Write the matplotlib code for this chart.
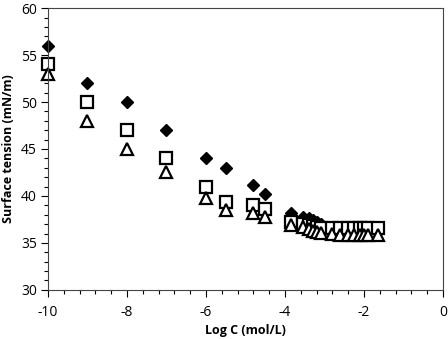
import matplotlib
matplotlib.use("Agg")
import matplotlib.pyplot as plt
import matplotlib.ticker as ticker

logc = [-10, -9, -8, -7, -6, -5.5, -4.8, -4.5, -3.85, -3.55, -3.4, -3.3, -3.2,
        -3.1, -2.8, -2.6, -2.4, -2.25, -2.1, -2.0, -1.9, -1.65]
st_diamond = [56, 52, 50, 47, 44, 43, 41.2, 40.2, 38.2, 37.8, 37.6, 37.4, 37.2,
              37.0, 36.4, 36.3, 36.5, 36.5, 36.4, 36.4, 36.5, 36.4]
st_square = [54, 50, 47, 44, 41, 39.4, 39.0, 38.6, 37.2, 37.0, 36.9, 36.8, 36.7,
             36.6, 36.6, 36.6, 36.6, 36.6, 36.6, 36.6, 36.6, 36.6]
st_triangle = [53, 48, 45, 42.5, 39.8, 38.5, 38.2, 37.8, 36.9, 36.7, 36.5, 36.3, 36.2,
               36.1, 36.0, 35.8, 35.8, 35.8, 35.8, 35.8, 35.8, 35.8]

plt.rcParams['font.family'] = ['Open Sans', 'DejaVu Sans']
plt.rcParams['axes.unicode_minus'] = False

fig = plt.figure(figsize=(4.48, 3.39), dpi=100)
ax = fig.add_axes([0.107, 0.145, 0.882, 0.831])

ax.plot(logc, st_diamond, 'D', color='black', markersize=6.5, linestyle='none', clip_on=False)
ax.plot(logc, st_square, 's', markerfacecolor='white', markeredgecolor='black',
        markeredgewidth=1.6, markersize=9, linestyle='none', clip_on=False)
ax.plot(logc, st_triangle, '^', markerfacecolor='white', markeredgecolor='black',
        markeredgewidth=1.6, markersize=8.5, linestyle='none', clip_on=False)

ax.set_xlim(-10, 0)
ax.set_ylim(30, 60)
ax.xaxis.set_major_locator(ticker.MultipleLocator(2))
ax.xaxis.set_minor_locator(ticker.MultipleLocator(0.4))
ax.yaxis.set_major_locator(ticker.MultipleLocator(5))
ax.yaxis.set_minor_locator(ticker.MultipleLocator(1))
ax.tick_params(which='major', direction='out', length=5, width=0.8, labelsize=10)
ax.tick_params(which='minor', direction='out', length=3, width=0.8)
ax.tick_params(axis='x', which='major', pad=6)
ax.tick_params(axis='y', which='major', pad=3)
for s in ax.spines.values():
    s.set_color('#444444')

ax.set_xlabel('Log C (mol/L)', fontsize=9, fontweight='bold', labelpad=3)
ax.set_ylabel('Surface tension (mN/m)', fontsize=9, fontweight='bold', labelpad=4)

plt.savefig('out.png', dpi=100)
